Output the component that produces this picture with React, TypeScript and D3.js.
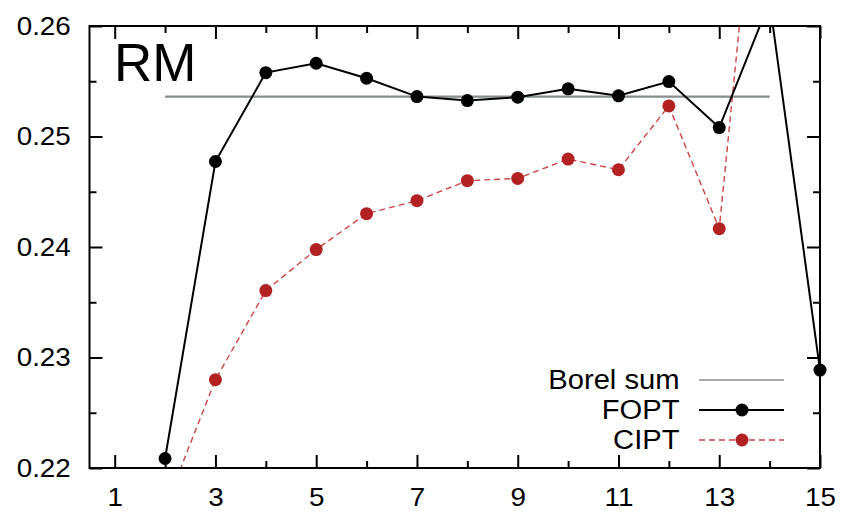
import React, { useRef, useEffect } from 'react';
import * as d3 from 'd3';

// orders of the expansion
const orders = [2, 3, 4, 5, 6, 7, 8, 9, 10, 11, 12, 13, 14, 15];
const fopt = [0.22086, 0.24774, 0.25578, 0.25663, 0.25527, 0.25361, 0.25325, 0.25356, 0.25431, 0.25368, 0.25497, 0.25081, 0.2622, 0.22886];
const ciptOrders = [2, 3, 4, 5, 6, 7, 8, 9, 10, 11, 12, 13, 14];
const cipt = [0.2164, 0.22799, 0.23606, 0.23977, 0.24302, 0.24419, 0.246, 0.24621, 0.24796, 0.24699, 0.25277, 0.24166, 0.2875];
const borelRange = [2, 14];
const borelValue = 0.25363;

const xMajor = [1, 3, 5, 7, 9, 11, 13, 15];
const xMinor = [2, 4, 6, 8, 10, 12, 14];
const yMajor = [0.22, 0.23, 0.24, 0.25, 0.26];
const yMinor = [0.225, 0.235, 0.245, 0.255];

const W = 842, H = 513;
const left = 89.5, right = 820, top = 26, bottom = 468;
const FONT = '"Liberation Sans", Arial, Helvetica, sans-serif';
const RED = '#b22222';
const SX = 1.07; // glyphs in the original are a bit wider

export default function App() {
  const svgRef = useRef<SVGSVGElement>(null);

  useEffect(() => {
    const svg = d3.select(svgRef.current);
    svg.selectAll('*').remove();

    const x = d3.scaleLinear().domain([0.5, 15]).range([left, right]);
    const y = d3.scaleLinear().domain([0.22, 0.26]).range([bottom, top]);

    svg.append('defs').append('clipPath').attr('id', 'plot')
      .append('rect').attr('x', left).attr('y', top)
      .attr('width', right - left).attr('height', bottom - top);

    const fmt = d3.format('.2f');
    const styleAxis = (g: any) => {
      g.select('.domain').remove();
      g.selectAll('line').attr('stroke', '#000').attr('stroke-width', 2);
      g.selectAll('text').attr('font-family', FONT).attr('font-size', 26).attr('fill', '#000')
        .attr('transform', `scale(${SX},1)`);
    };

    // bottom axis
    svg.append('g').attr('transform', `translate(0,${bottom})`)
      .call(d3.axisBottom(x).tickValues(xMajor).tickSizeInner(-13).tickSizeOuter(0).tickPadding(20).tickFormat(d3.format('d')))
      .call(styleAxis);
    svg.append('g').attr('transform', `translate(0,${bottom})`)
      .call(d3.axisBottom(x).tickValues(xMinor).tickSizeInner(-7).tickSizeOuter(0).tickFormat(() => ''))
      .call(styleAxis);
    // top axis
    svg.append('g').attr('transform', `translate(0,${top})`)
      .call(d3.axisTop(x).tickValues(xMajor).tickSizeInner(-13).tickSizeOuter(0).tickFormat(() => ''))
      .call(styleAxis);
    svg.append('g').attr('transform', `translate(0,${top})`)
      .call(d3.axisTop(x).tickValues(xMinor).tickSizeInner(-7).tickSizeOuter(0).tickFormat(() => ''))
      .call(styleAxis);
    // left axis
    svg.append('g').attr('transform', `translate(${left},0)`)
      .call(d3.axisLeft(y).tickValues(yMajor).tickSizeInner(-13).tickSizeOuter(0).tickPadding(17.5).tickFormat((d: any) => fmt(d)))
      .call(styleAxis);
    svg.append('g').attr('transform', `translate(${left},0)`)
      .call(d3.axisLeft(y).tickValues(yMinor).tickSizeInner(-7).tickSizeOuter(0).tickFormat(() => ''))
      .call(styleAxis);
    // right axis
    svg.append('g').attr('transform', `translate(${right},0)`)
      .call(d3.axisRight(y).tickValues(yMajor).tickSizeInner(-13).tickSizeOuter(0).tickFormat(() => ''))
      .call(styleAxis);
    svg.append('g').attr('transform', `translate(${right},0)`)
      .call(d3.axisRight(y).tickValues(yMinor).tickSizeInner(-7).tickSizeOuter(0).tickFormat(() => ''))
      .call(styleAxis);

    // Borel sum line
    const borel = svg.append('g').attr('clip-path', 'url(#plot)');
    borel.append('line')
      .attr('x1', x(borelRange[0])).attr('x2', x(borelRange[1]))
      .attr('y1', y(borelValue) + 1).attr('y2', y(borelValue) + 1)
      .attr('stroke', '#5fb0b0').attr('stroke-width', 1).attr('opacity', 0.7);
    borel.append('line')
      .attr('x1', x(borelRange[0])).attr('x2', x(borelRange[1]))
      .attr('y1', y(borelValue)).attr('y2', y(borelValue))
      .attr('stroke', '#8c8c8c').attr('stroke-width', 2);

    const line = d3.line<[number, number]>().x(d => x(d[0])).y(d => y(d[1]));
    const ciptPts: [number, number][] = ciptOrders.map((o, i) => [o, cipt[i]]);
    const foptPts: [number, number][] = orders.map((o, i) => [o, fopt[i]]);
    const inside = (d: [number, number]) => d[1] >= 0.2195 && d[1] <= 0.2605;

    // CIPT
    svg.append('path').datum(ciptPts).attr('clip-path', 'url(#plot)')
      .attr('d', line).attr('fill', 'none').attr('stroke', '#cc4444')
      .attr('stroke-width', 1.4).attr('stroke-dasharray', '6,4');
    svg.append('g').selectAll('circle').data(ciptPts.filter(inside)).enter()
      .append('circle').attr('cx', d => x(d[0])).attr('cy', d => y(d[1]))
      .attr('r', 6.5).attr('fill', RED);

    // FOPT
    svg.append('path').datum(foptPts).attr('clip-path', 'url(#plot)')
      .attr('d', line).attr('fill', 'none').attr('stroke', '#000').attr('stroke-width', 2);
    svg.append('g').selectAll('circle').data(foptPts.filter(inside)).enter()
      .append('circle').attr('cx', d => x(d[0])).attr('cy', d => y(d[1]))
      .attr('r', 6.5).attr('fill', '#000');

    // frame
    svg.append('rect').attr('x', left).attr('y', top)
      .attr('width', right - left).attr('height', bottom - top)
      .attr('fill', 'none').attr('stroke', '#000').attr('stroke-width', 2);

    // label
    svg.append('text').attr('x', 114).attr('y', 81)
      .attr('font-family', FONT).attr('font-size', 53).text('RM');

    // legend
    const legend = [
      { name: 'Borel sum', color: '#8c8c8c', dash: null, dot: false },
      { name: 'FOPT', color: '#000', dash: null, dot: true },
      { name: 'CIPT', color: '#cc4444', dash: '6,4', dot: true },
    ];
    const lg = svg.append('g');
    legend.forEach((e, i) => {
      const ly = 380 + i * 30;
      lg.append('g').attr('transform', `translate(679.5,${ly + 9})`)
        .append('text').attr('text-anchor', 'end').attr('transform', 'scale(1.08,1)')
        .attr('font-family', FONT).attr('font-size', 27).text(e.name);
      const l = lg.append('line').attr('x1', 699).attr('x2', 784).attr('y1', ly).attr('y2', ly)
        .attr('stroke', e.color).attr('stroke-width', i === 1 ? 2 : 1.6);
      if (e.dash) l.attr('stroke-dasharray', e.dash);
      if (e.dot) lg.append('circle').attr('cx', 742).attr('cy', ly).attr('r', 6.5)
        .attr('fill', i === 2 ? RED : '#000');
    });
  }, []);

  return (
    <svg ref={svgRef} width={W} height={H}
      style={{ position: 'absolute', left: 0, top: 0, background: '#fff' }} />
  );
}
